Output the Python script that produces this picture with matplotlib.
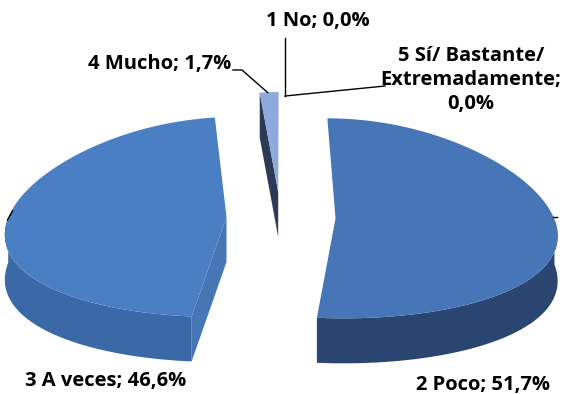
import matplotlib
matplotlib.use('Agg')
import matplotlib.pyplot as plt
import numpy as np
from matplotlib.patches import Polygon

# data
categories = ['1 No', '2 Poco', '3 A veces', '4 Mucho', '5 Sí/ Bastante/\nExtremadamente']
values = [0.0, 51.7, 46.6, 1.7, 0.0]
top_colors = ['#4a7cc0', '#4675b8', '#4a7fc3', '#8eaadc', '#4a7cc0']
side_colors = ['#2d4c7a', '#2a4670', '#3b69a7', '#2c3a55', '#2d4c7a']
face_colors = ['#2d4c7a', '#2a4670', '#4676b6', '#2c3a55', '#2d4c7a']

# layout of the fake 3d pie (pixel units)
CX, CY = 281, 217
R, RY = 218, 100
DEPTH = 45
EXPLODE = 0.25
PERSP = 0.15

fig = plt.figure(figsize=(5.77, 3.94), dpi=100)
ax = fig.add_axes([0, 0, 1, 1])
ax.set_xlim(0, 577)
ax.set_ylim(394, 0)
ax.axis('off')


def pt(theta, r, ox, oy):
    # theta in degrees clockwise from 12 o'clock, returns screen x, y
    t = np.radians(theta)
    wx = ox + r * np.sin(t)
    wy = oy + r * np.cos(t)
    m = 1 - PERSP * wy
    return CX + wx * R * m, CY - wy * RY


def label_text(cat, v):
    num = ('%.1f' % v).replace('.', ',')
    if '\n' in cat:
        return cat + ';\n' + num + '%'
    return cat + '; ' + num + '%'


total = sum(values)
starts = np.cumsum([0] + values[:-1]) / total * 360
slices = []
for i, v in enumerate(values):
    if v <= 0:
        continue
    a0 = starts[i]
    a1 = a0 + v / total * 360
    mid = (a0 + a1) / 2
    ox = EXPLODE * np.sin(np.radians(mid))
    oy = EXPLODE * np.cos(np.radians(mid))
    slices.append((oy, i, a0, a1, ox))

# far slices first
slices.sort(key=lambda s: -s[0])
anchors = {}
for oy, i, a0, a1, ox in slices:
    th = np.linspace(a0, a1, 200)
    arc = np.array([pt(t, 1, ox, oy) for t in th])
    c = np.array(pt(0, 0, ox, oy))
    down = np.array([0, DEPTH])
    # radial faces looking to the viewer
    for a, n in ((a0, a0 - 90), (a1, a1 + 90)):
        if np.cos(np.radians(n)) < -1e-6:
            p = np.array(pt(a, 1, ox, oy))
            ax.add_patch(Polygon([c, p, p + down, c + down], closed=True,
                                 fc=face_colors[i], ec='none', zorder=2))
    # outer wall, front part only
    front = [t for t in th if np.cos(np.radians(t)) < 0]
    if front:
        fa = np.array([pt(t, 1, ox, oy) for t in front])
        ax.add_patch(Polygon(np.vstack([fa, fa[::-1] + down]), closed=True,
                             fc=side_colors[i], ec='none', zorder=2))
    ax.add_patch(Polygon(np.vstack([c, arc]), closed=True,
                         fc=top_colors[i], ec='none', zorder=3))
    anchors[i] = (arc, ox, oy)

# leader lines / labels
txt = dict(fontsize=14.5, fontweight='bold', family='Open Sans', color='black',
           zorder=5)
no_pt = pt(0, 1 + EXPLODE, 0, 0)
ax.plot([no_pt[0] + 4, no_pt[0] + 4], [no_pt[1] + 4, 38], color='black', lw=1, zorder=4)
ax.plot([no_pt[0] + 4, 385], [no_pt[1] + 4, 86], color='black', lw=1, zorder=4)
ax.text(318, 21, label_text(categories[0], values[0]), ha='center', va='center', **txt)
ax.text(471, 80, label_text(categories[4], values[4]), ha='center', va='center',
        linespacing=1.25, **txt)

m_arc = anchors[3][0][0]
ax.plot([233, 242, m_arc[0] + 8], [70, 70, m_arc[1]], color='black', lw=1, zorder=4)
ax.text(231, 64, label_text(categories[3], values[3]), ha='right', va='center', **txt)

a_left = pt(270, 1, *anchors[2][1:])
ax.plot([a_left[0] - 1, a_left[0] + 4], [a_left[1] + 3, a_left[1] - 6], color='black', lw=1, zorder=4)
ax.text(106, 381, label_text(categories[2], values[2]), ha='center', va='center', **txt)

p_right = pt(90, 1, *anchors[1][1:])
ax.plot([p_right[0] - 1, p_right[0] + 3], [p_right[1] - 1, p_right[1] - 1], color='black', lw=1, zorder=4)
ax.text(483, 385, label_text(categories[1], values[1]), ha='center', va='center', **txt)

fig.savefig('out.png', dpi=100)
